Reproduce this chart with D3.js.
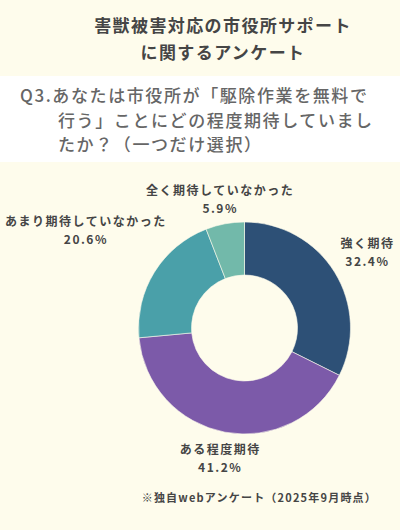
<!DOCTYPE html>
<html>
<head>
<meta charset="utf-8">
<script src="https://cdn.jsdelivr.net/npm/d3@7"></script>
<style>
  body { margin: 0; background: #fefcec; }
  svg { display: block; }
  text { font-family: "Noto Sans CJK JP", "Noto Sans", sans-serif; }
</style>
</head>
<body>
<svg id="chart"></svg>
<script>
// survey result (single choice)
const categories = ['強く期待', 'ある程度期待', 'あまり期待していなかった', '全く期待していなかった'];
const values = [32.4, 41.2, 20.6, 5.9];
const sliceColors = ['#2d5076', '#7c5aa9', '#4aa0a9', '#72b9aa'];

const titleLines = ['害獣被害対応の市役所サポート', 'に関するアンケート'];
const questionLines = ['Q3.あなたは市役所が「駆除作業を無料で', '行う」ことにどの程度期待していまし', 'たか？（一つだけ選択）'];
const footnote = '※独自webアンケート（2025年9月時点）';

const width = 400, height = 530;
const cx = 244.5, cy = 328;
const outerR = 106, innerR = 53;

const svg = d3.select('#chart')
  .attr('width', width)
  .attr('height', height)

svg.append('rect')
  .attr('width', width).attr('height', height)
  .attr('fill', '#fefcec')

// white band behind the question
svg.append('rect')
  .attr('x', 0).attr('y', 76)
  .attr('width', width).attr('height', 86)
  .attr('fill', '#ffffff')

svg.append('g')
  .selectAll('text')
  .data(titleLines)
  .enter().append('text')
    .attr('x', 223)
    .attr('y', (d, i) => 32 + i * 27)
    .attr('text-anchor', 'middle')
    .attr('font-size', 17)
    .attr('font-weight', 700)
    .attr('letter-spacing', 1.4)
    .attr('fill', '#454545')
    .text(d => d)

svg.append('g')
  .selectAll('text')
  .data(questionLines)
  .enter().append('text')
    .attr('x', (d, i) => i === 0 ? 20 : 58)
    .attr('y', (d, i) => 102 + i * 24.5)
    .attr('font-size', 17)
    .attr('font-weight', 500)
    .attr('letter-spacing', 1.6)
    .attr('fill', '#666666')
    .text(d => d)

const pie = d3.pie().sort(null).value(d => d.value);
const arc = d3.arc().innerRadius(innerR).outerRadius(outerR);

const data = categories.map((c, i) => ({ name: c, value: values[i], color: sliceColors[i] }));
const arcs = pie(data);

const g = svg.append('g').attr('transform', `translate(${cx},${cy})`)

g.selectAll('path')
  .data(arcs)
  .enter().append('path')
    .attr('d', arc)
    .attr('fill', d => d.data.color)
    .attr('stroke', '#fefcec')
    .attr('stroke-width', 0.6)

// labels: pushed out along the mid angle until the box clears the ring
const labels = g.selectAll('text.lbl')
  .data(arcs)
  .enter().append('text')
    .attr('class', 'lbl')
    .attr('text-anchor', 'middle')
    .attr('font-size', 12)
    .attr('font-weight', 700)
    .attr('letter-spacing', 1.5)
    .attr('fill', '#454545')

labels.append('tspan')
  .attr('x', 0).attr('dy', 0)
  .text(d => d.data.name)
labels.append('tspan')
  .attr('x', 0).attr('dy', 18)
  .text(d => d.data.value.toFixed(1) + '%')

const clearR = outerR + 6;
labels.each(function(d) {
  const el = d3.select(this);
  const bb = this.getBBox();
  const hw = bb.width / 2, hh = bb.height / 2;
  const offY = bb.y + hh; // box center relative to text origin
  const mid = (d.startAngle + d.endAngle) / 2;
  const ux = Math.sin(mid), uy = -Math.cos(mid);
  let t = 0;
  for (; t < 300; t += 0.5) {
    const bx = ux * t, by = uy * t;
    const nx = Math.max(Math.abs(bx) - hw, 0);
    const ny = Math.max(Math.abs(by) - hh, 0);
    if (Math.sqrt(nx * nx + ny * ny) >= clearR) break;
  }
  el.attr('transform', `translate(${ux * t},${uy * t - offY})`)
})

svg.append('text')
  .attr('x', 377)
  .attr('y', 502)
  .attr('text-anchor', 'end')
  .attr('font-size', 11)
  .attr('font-weight', 700)
  .attr('letter-spacing', 1.2)
  .attr('fill', '#454545')
  .text(footnote)
</script>
</body>
</html>
